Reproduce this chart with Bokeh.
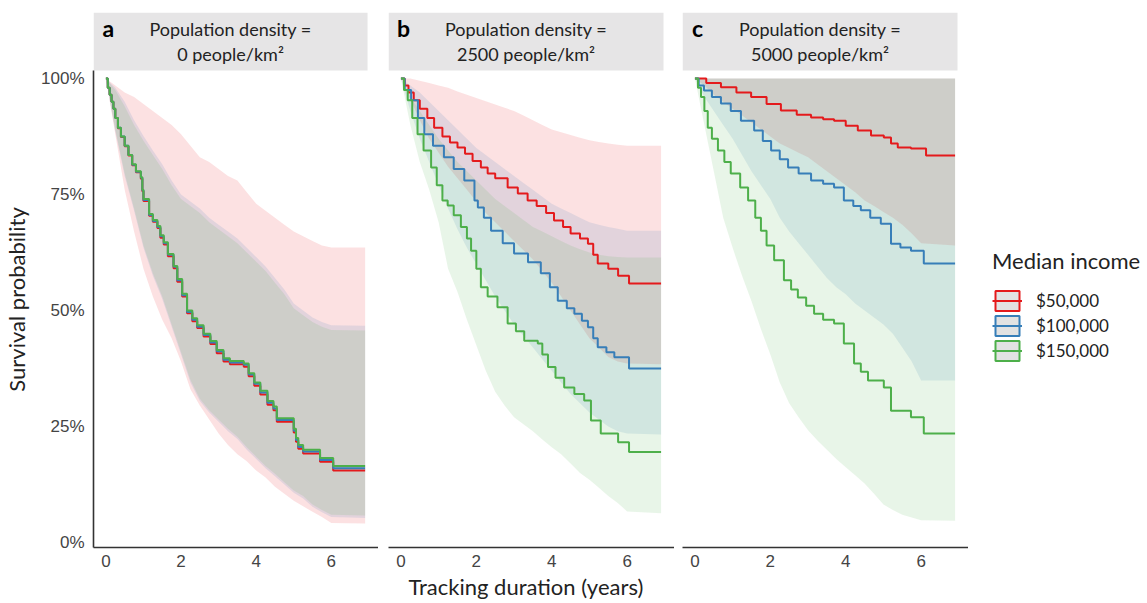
from bokeh.plotting import figure
from bokeh.layouts import row
from bokeh.models import Range1d, FixedTicker, Legend, LegendItem, NumeralTickFormatter
from bokeh.core.properties import value
from bokeh.embed import file_html
from bokeh.resources import INLINE

# ---------------- data ----------------
INCOMES = ["$50,000", "$100,000", "$150,000"]
COLORS = ["#E41A1C", "#377EB8", "#4DAF4A"]
DENSITIES = ["0 people/km\u00b2", "2500 people/km\u00b2", "5000 people/km\u00b2"]
LETTERS = ["a", "b", "c"]
X_TICKS = [0, 2, 4, 6]
Y_TICKS = [0, 0.25, 0.5, 0.75, 1.0]

# common time grid of the confidence bands (years)
BAND_T = [0, 0.25, 0.5, 0.75, 1.0, 1.25, 1.5, 1.75, 2.0, 2.25, 2.5, 2.75, 3.0,
          3.25, 3.5, 3.75, 4.0, 4.25, 4.5, 4.75, 5.0, 5.25, 5.5, 5.75, 6.0, 6.9]

# panel a: 0 people/km2
A_RED_HI = [1.0, 0.985, 0.97, 0.96, 0.945, 0.93, 0.915, 0.9, 0.88, 0.855, 0.83, 0.82, 0.805,
            0.79, 0.78, 0.755, 0.73, 0.715, 0.70, 0.685, 0.67, 0.66, 0.65, 0.64, 0.636, 0.636]
A_RED_LO = [1.0, 0.88, 0.76, 0.67, 0.59, 0.53, 0.48, 0.44, 0.39, 0.33, 0.295, 0.265, 0.235,
            0.21, 0.19, 0.175, 0.155, 0.14, 0.12, 0.105, 0.09, 0.078, 0.066, 0.055, 0.042, 0.041]
A_BLUE_HI = [1.0, 0.98, 0.95, 0.91, 0.876, 0.845, 0.815, 0.78, 0.75, 0.735, 0.72, 0.70, 0.685,
             0.67, 0.655, 0.635, 0.615, 0.595, 0.57, 0.545, 0.515, 0.5, 0.485, 0.475, 0.468, 0.467]
A_BLUE_LO = [1.0, 0.885, 0.79, 0.715, 0.635, 0.575, 0.525, 0.465, 0.405, 0.345, 0.305, 0.28, 0.26,
             0.24, 0.223, 0.2, 0.18, 0.16, 0.143, 0.125, 0.107, 0.095, 0.077, 0.065, 0.055, 0.053]
A_GREEN_HI = [1.0, 0.975, 0.94, 0.9, 0.866, 0.835, 0.805, 0.77, 0.74, 0.725, 0.71, 0.69, 0.675,
              0.66, 0.645, 0.625, 0.605, 0.585, 0.56, 0.535, 0.505, 0.49, 0.475, 0.465, 0.458, 0.457]
A_GREEN_LO = [1.0, 0.89, 0.795, 0.72, 0.64, 0.58, 0.53, 0.47, 0.41, 0.35, 0.31, 0.285, 0.265,
              0.245, 0.228, 0.205, 0.185, 0.165, 0.148, 0.13, 0.112, 0.1, 0.082, 0.07, 0.06, 0.058]

A_T = [0, 0.05, 0.1, 0.15, 0.2, 0.25, 0.32, 0.4, 0.5, 0.6, 0.7, 0.8, 0.93, 0.97, 1.0, 1.15,
       1.25, 1.37, 1.45, 1.54, 1.65, 1.8, 1.9, 2.03, 2.16, 2.3, 2.43, 2.6, 2.78, 2.95, 3.13,
       3.3, 3.67, 3.8, 3.95, 4.11, 4.3, 4.46, 4.55, 4.95, 5.0, 5.06, 5.12, 5.25, 5.7, 6.05, 6.9]
A_RED = [1.0, 0.98, 0.965, 0.95, 0.935, 0.915, 0.893, 0.874, 0.854, 0.834, 0.813, 0.798, 0.784,
         0.757, 0.736, 0.704, 0.691, 0.678, 0.657, 0.642, 0.617, 0.591, 0.562, 0.53, 0.494, 0.477,
         0.462, 0.444, 0.428, 0.408, 0.39, 0.384, 0.379, 0.358, 0.338, 0.319, 0.297, 0.285, 0.26,
         0.26, 0.237, 0.217, 0.202, 0.192, 0.174, 0.155, 0.155]
A_BLUE = [1.0, 0.98, 0.965, 0.95, 0.935, 0.915, 0.894, 0.875, 0.855, 0.835, 0.814, 0.799, 0.786,
          0.759, 0.738, 0.706, 0.693, 0.68, 0.66, 0.645, 0.62, 0.594, 0.565, 0.533, 0.497, 0.48,
          0.465, 0.447, 0.431, 0.412, 0.394, 0.388, 0.383, 0.362, 0.342, 0.323, 0.301, 0.289, 0.264,
          0.264, 0.241, 0.221, 0.206, 0.196, 0.178, 0.16, 0.16]
A_GREEN = [1.0, 0.98, 0.965, 0.95, 0.935, 0.915, 0.894, 0.875, 0.855, 0.835, 0.815, 0.8, 0.787,
           0.76, 0.74, 0.708, 0.695, 0.682, 0.662, 0.647, 0.622, 0.596, 0.568, 0.536, 0.5, 0.483,
           0.468, 0.45, 0.434, 0.415, 0.397, 0.391, 0.386, 0.365, 0.345, 0.327, 0.305, 0.293, 0.268,
           0.268, 0.245, 0.225, 0.21, 0.2, 0.182, 0.165, 0.165]

# panel b: 2500 people/km2
B_RED_HI = [1.0, 1.0, 0.995, 0.99, 0.985, 0.98, 0.972, 0.965, 0.958, 0.951, 0.944, 0.937, 0.93,
            0.92, 0.91, 0.9, 0.89, 0.884, 0.878, 0.872, 0.867, 0.863, 0.86, 0.857, 0.855, 0.855]
B_RED_LO = [1.0, 0.955, 0.91, 0.87, 0.84, 0.81, 0.785, 0.76, 0.735, 0.71, 0.69, 0.67, 0.65,
            0.63, 0.61, 0.585, 0.56, 0.53, 0.50, 0.47, 0.44, 0.42, 0.40, 0.39, 0.386, 0.384]
B_BLUE_HI = [1.0, 0.985, 0.97, 0.95, 0.93, 0.91, 0.89, 0.87, 0.85, 0.835, 0.82, 0.805, 0.79,
             0.775, 0.76, 0.745, 0.73, 0.72, 0.71, 0.70, 0.69, 0.685, 0.68, 0.676, 0.672, 0.672]
B_BLUE_LO = [1.0, 0.93, 0.87, 0.82, 0.77, 0.72, 0.675, 0.635, 0.6, 0.565, 0.53, 0.5, 0.47,
             0.445, 0.42, 0.395, 0.37, 0.345, 0.32, 0.3, 0.28, 0.265, 0.25, 0.24, 0.235, 0.233]
B_GREEN_HI = [1.0, 0.96, 0.93, 0.9, 0.87, 0.845, 0.82, 0.8, 0.78, 0.76, 0.74, 0.725, 0.71,
              0.695, 0.68, 0.67, 0.66, 0.65, 0.64, 0.632, 0.625, 0.62, 0.617, 0.615, 0.614, 0.614]
B_GREEN_LO = [1.0, 0.9, 0.82, 0.76, 0.69, 0.59, 0.54, 0.48, 0.425, 0.37, 0.325, 0.295, 0.27,
              0.255, 0.24, 0.222, 0.205, 0.19, 0.17, 0.15, 0.135, 0.118, 0.1, 0.085, 0.067, 0.063]

B_RED_T = [0, 0.1, 0.2, 0.34, 0.5, 0.7, 0.88, 1.1, 1.3, 1.5, 1.7, 1.9, 2.12, 2.3, 2.5, 2.83, 3.1,
           3.36, 3.6, 3.85, 4.06, 4.3, 4.5, 4.75, 4.96, 5.1, 5.22, 5.5, 5.76, 6.05, 6.9]
B_RED = [1.0, 0.985, 0.97, 0.953, 0.935, 0.915, 0.894, 0.875, 0.862, 0.851, 0.838, 0.822, 0.808,
         0.795, 0.785, 0.765, 0.752, 0.737, 0.725, 0.71, 0.694, 0.68, 0.666, 0.655, 0.644, 0.62,
         0.601, 0.59, 0.575, 0.558, 0.558]
B_BLUE_T = [0, 0.1, 0.27, 0.45, 0.62, 0.85, 1.14, 1.4, 1.68, 1.95, 2.04, 2.2, 2.39, 2.7, 3.0,
            3.37, 3.71, 3.95, 4.16, 4.4, 4.6, 4.8, 4.96, 5.1, 5.22, 5.45, 5.66, 6.05, 6.9]
B_BLUE = [1.0, 0.975, 0.953, 0.915, 0.88, 0.855, 0.83, 0.805, 0.78, 0.737, 0.722, 0.70, 0.672,
          0.645, 0.623, 0.604, 0.58, 0.55, 0.521, 0.505, 0.493, 0.478, 0.464, 0.44, 0.421, 0.41,
          0.399, 0.375, 0.375]
B_GREEN_T = [0, 0.08, 0.18, 0.3, 0.44, 0.6, 0.8, 0.95, 1.1, 1.24, 1.4, 1.59, 1.75, 1.86, 2.0,
             2.12, 2.3, 2.56, 2.83, 3.05, 3.27, 3.63, 3.75, 3.9, 4.1, 4.33, 4.6, 4.86, 5.04, 5.3,
             5.76, 6.05, 6.9]
B_GREEN = [1.0, 0.975, 0.953, 0.915, 0.88, 0.845, 0.808, 0.77, 0.737, 0.726, 0.705, 0.68, 0.655,
           0.629, 0.59, 0.55, 0.53, 0.507, 0.472, 0.455, 0.435, 0.429, 0.405, 0.378, 0.355, 0.334,
           0.32, 0.306, 0.263, 0.235, 0.216, 0.195, 0.195]

# panel c: 5000 people/km2
C_RED_HI = [1.0, 1.0, 1.0, 1.0, 1.0, 1.0, 1.0, 1.0, 1.0, 1.0, 1.0, 1.0, 1.0,
            1.0, 1.0, 1.0, 1.0, 1.0, 1.0, 1.0, 1.0, 1.0, 1.0, 1.0, 1.0, 1.0]
C_RED_LO = [1.0, 0.985, 0.965, 0.95, 0.935, 0.92, 0.905, 0.89, 0.875, 0.86, 0.85, 0.84, 0.83,
            0.815, 0.80, 0.785, 0.77, 0.755, 0.737, 0.725, 0.712, 0.70, 0.685, 0.666, 0.645, 0.64]
C_BLUE_HI = [1.0, 1.0, 1.0, 1.0, 1.0, 1.0, 1.0, 1.0, 1.0, 1.0, 1.0, 1.0, 1.0,
             1.0, 1.0, 1.0, 1.0, 1.0, 1.0, 1.0, 1.0, 1.0, 1.0, 1.0, 1.0, 1.0]
C_BLUE_LO = [1.0, 0.96, 0.93, 0.9, 0.87, 0.835, 0.8, 0.77, 0.74, 0.7, 0.67, 0.645, 0.62,
             0.595, 0.57, 0.55, 0.535, 0.515, 0.5, 0.485, 0.47, 0.45, 0.42, 0.39, 0.349, 0.349]
C_GREEN_HI = [1.0, 1.0, 1.0, 1.0, 1.0, 1.0, 1.0, 1.0, 1.0, 1.0, 1.0, 1.0, 1.0,
              1.0, 1.0, 1.0, 1.0, 1.0, 1.0, 1.0, 1.0, 1.0, 1.0, 1.0, 1.0, 1.0]
C_GREEN_LO = [1.0, 0.9, 0.8, 0.7, 0.635, 0.575, 0.52, 0.46, 0.405, 0.345, 0.3, 0.27, 0.242,
              0.22, 0.2, 0.18, 0.162, 0.145, 0.127, 0.105, 0.082, 0.07, 0.06, 0.054, 0.048, 0.047]

C_RED_T = [0, 0.3, 0.69, 1.1, 1.49, 1.9, 2.28, 2.7, 3.08, 3.4, 3.69, 4.0, 4.32, 4.67, 5.01, 5.2,
           5.38, 5.73, 6.13, 6.9]
C_RED = [1.0, 0.99, 0.981, 0.97, 0.96, 0.945, 0.931, 0.922, 0.916, 0.912, 0.909, 0.898, 0.888,
         0.877, 0.873, 0.86, 0.851, 0.849, 0.834, 0.834]
C_BLUE_T = [0, 0.1, 0.24, 0.45, 0.69, 0.95, 1.22, 1.57, 1.8, 2.02, 2.25, 2.47, 2.75, 3.08, 3.4,
            3.69, 3.95, 4.2, 4.4, 4.65, 4.93, 5.2, 5.45, 5.73, 6.07, 6.9]
C_BLUE = [1.0, 0.985, 0.974, 0.96, 0.946, 0.93, 0.909, 0.888, 0.865, 0.845, 0.826, 0.808, 0.795,
          0.78, 0.773, 0.765, 0.737, 0.725, 0.716, 0.70, 0.687, 0.644, 0.636, 0.629, 0.601, 0.601]
C_GREEN_T = [0, 0.08, 0.16, 0.25, 0.34, 0.45, 0.61, 0.78, 0.95, 1.2, 1.41, 1.6, 1.75, 1.9, 2.1,
             2.36, 2.55, 2.73, 2.95, 3.16, 3.4, 3.69, 3.95, 4.22, 4.4, 4.59, 5.01, 5.2, 5.73,
             6.07, 6.9]
C_GREEN = [1.0, 0.98, 0.96, 0.93, 0.894, 0.87, 0.845, 0.82, 0.795, 0.765, 0.737, 0.70, 0.672,
           0.64, 0.608, 0.565, 0.545, 0.528, 0.51, 0.493, 0.48, 0.472, 0.429, 0.386, 0.368,
           0.349, 0.334, 0.284, 0.27, 0.235, 0.235]

# ---------------- layout constants ----------------
H = 602
BORDER_TOP = 12
BORDER_BOTTOM = 55
XR = (-0.33, 7.256)
YR = (-0.0108, 1.1422)
PX_PER_YEAR = 37.7
STRIP_W = 275 / PX_PER_YEAR
STRIP_BOTTOM = 1.017
TXT = "#222222"
NB = "\u00a0"


def style_axis(ax):
    ax.axis_line_color = "#333333"
    ax.axis_line_width = 1.6
    ax.major_tick_line_color = None
    ax.minor_tick_line_color = None
    ax.major_tick_out = 0
    ax.major_tick_in = 0
    ax.minor_tick_out = 0
    ax.minor_tick_in = 0
    ax.major_label_text_font = "Liberation Sans"
    ax.major_label_text_font_size = "17px"
    ax.major_label_text_color = "#444444"
    ax.axis_label_text_font = "Lato"
    ax.axis_label_text_font_size = "22px"
    ax.axis_label_text_font_style = "normal"
    ax.axis_label_text_color = TXT


def make_panel(idx, bands, lines, width, border_left, show_y, xlabel):
    p = figure(width=width, height=H, x_range=Range1d(*XR), y_range=Range1d(*YR),
               output_backend="svg", toolbar_location=None,
               min_border_left=border_left, min_border_right=0,
               min_border_top=BORDER_TOP, min_border_bottom=BORDER_BOTTOM)
    p.outline_line_color = None
    p.grid.visible = False
    p.background_fill_color = "white"

    for (lo, hi), c in zip(bands, COLORS):
        p.varea(x=BAND_T, y1=lo, y2=hi, fill_color=c, fill_alpha=0.13)
    for (t, s), c in zip(lines, COLORS):
        p.step(x=t, y=s, mode="after", line_color=c, line_width=2)

    # facet strip
    p.quad(left=[XR[0]], right=[XR[0] + STRIP_W], bottom=[STRIP_BOTTOM], top=[YR[1]],
           fill_color="#E6E5E6", line_color=None)
    cx = XR[0] + STRIP_W / 2
    p.text(x=[cx], y=[1.1056], text=["Population density ="], text_align="center",
           text_baseline="middle", text_font=value("Lato"), text_font_size="18px",
           text_color=TXT)
    p.text(x=[cx], y=[1.0535], text=[DENSITIES[idx]], text_align="center",
           text_baseline="middle", text_font=value("Lato"), text_font_size="18px",
           text_color=TXT)
    p.text(x=[XR[0] + 15 / PX_PER_YEAR], y=[1.1078], text=[LETTERS[idx]],
           text_align="center", text_baseline="middle", text_font=value("Lato"),
           text_font_size="23px", text_font_style="bold", text_color="black")

    xa = p.xaxis[0]
    xa.ticker = FixedTicker(ticks=X_TICKS)
    style_axis(xa)
    xa.major_label_standoff = 7
    xa.axis_label = xlabel
    xa.axis_label_standoff = 3

    ya = p.yaxis[0]
    if show_y:
        ya.ticker = FixedTicker(ticks=Y_TICKS)
        ya.formatter = NumeralTickFormatter(format="0%")
        ya.bounds = (YR[0], STRIP_BOTTOM)
        style_axis(ya)
        ya.major_label_standoff = 9
        # trailing no-break spaces move the centred title down to the 0-100% span
        ya.axis_label = "Survival probability" + NB * 7
        ya.axis_label_standoff = 8
    else:
        ya.visible = False
    return p


pa = make_panel(0,
                [(A_RED_LO, A_RED_HI), (A_BLUE_LO, A_BLUE_HI), (A_GREEN_LO, A_GREEN_HI)],
                [(A_T, A_RED), (A_T, A_BLUE), (A_T, A_GREEN)],
                width=378, border_left=92, show_y=True, xlabel=NB)
pb = make_panel(1,
                [(B_RED_LO, B_RED_HI), (B_BLUE_LO, B_BLUE_HI), (B_GREEN_LO, B_GREEN_HI)],
                [(B_RED_T, B_RED), (B_BLUE_T, B_BLUE), (B_GREEN_T, B_GREEN)],
                width=296, border_left=10, show_y=False,
                xlabel="Tracking duration (years)" + NB * 2)
pc = make_panel(2,
                [(C_RED_LO, C_RED_HI), (C_BLUE_LO, C_BLUE_HI), (C_GREEN_LO, C_GREEN_HI)],
                [(C_RED_T, C_RED), (C_BLUE_T, C_BLUE), (C_GREEN_T, C_GREEN)],
                width=294, border_left=8, show_y=False, xlabel=NB)

# legend panel (dummy renderers lie outside its visible range)
pl = figure(width=178, height=H, x_range=Range1d(0, 1), y_range=Range1d(0, 1),
            output_backend="svg", toolbar_location=None, min_border=0)
pl.axis.visible = False
pl.grid.visible = False
pl.outline_line_color = None
items = []
for lab, c in zip(INCOMES, COLORS):
    rq = pl.quad(left=[5], right=[6], top=[6], bottom=[5], fill_color="#E2E2E2",
                 line_color=c, line_width=2)
    rl = pl.line(x=[5, 6], y=[5, 5], line_color=c, line_width=2)
    items.append(LegendItem(label=value(lab), renderers=[rq, rl]))
legend = Legend(items=items, title="Median income", location=(24, 184),
                title_text_font="Lato", title_text_font_size="22px",
                title_text_font_style="normal", title_text_color=TXT, title_standoff=14,
                label_text_font="Lato", label_text_font_size="17px", label_text_color=TXT,
                glyph_width=30, glyph_height=25, label_height=25, spacing=0, padding=0,
                margin=0, label_standoff=14, border_line_color=None,
                background_fill_alpha=0)
pl.add_layout(legend)

layout = row(pa, pb, pc, pl)
open("out.html", "w").write(file_html(layout, INLINE))
